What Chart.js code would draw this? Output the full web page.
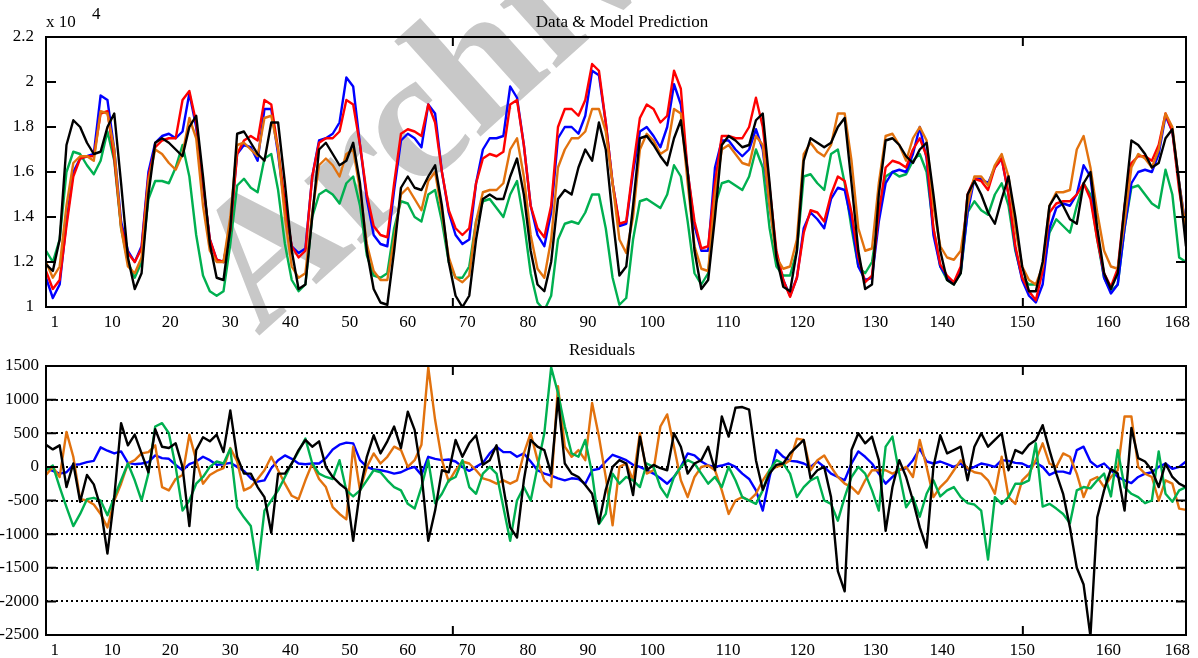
<!DOCTYPE html>
<html>
<head>
<meta charset="utf-8">
<script src="https://cdn.jsdelivr.net/npm/chart.js@4.4.1/dist/chart.umd.min.js"></script>
<style>
  body { margin: 0; background: #fff; }
  #page { position: relative; width: 1198px; height: 658px; overflow: hidden; }
  #mark {
    position: absolute; left: 278px; top: 174px; line-height: 1;
    font: bold 185px/1 "Liberation Serif", serif; color: #c8c8c8;
    white-space: nowrap; transform-origin: 0 100%; transform: rotate(-42deg);
  }
  canvas { position: absolute; left: 0; }
</style>
</head>
<body>
<div id="page">
  <div id="mark">Archive of SID</div>
  <canvas id="fitChart" width="1198" height="330" style="top:0"></canvas>
  <canvas id="resChart" width="1198" height="328" style="top:330px"></canvas>
</div>
<script>
// hour index 1..168
const hours = Array.from({ length: 168 }, (_, i) => i + 1);

// where the x labels sit (hour units) and what they say
const xTickPos = [2.3, 10.7, 19.2, 28, 36.8, 45.5, 54, 62.7, 71.6, 80.4, 89.8, 100.9, 111.8, 122.5, 132.3, 144, 156.6, 166.7];
const xTickLabels = ['1', '10', '20', '30', '40', '50', '60', '70', '80', '90', '100', '110', '120', '130', '140', '150', '160', '168'];
const frameTicksX = [60.6, 144.1];

// top panel: data and model predictions
const redLoad = [
  11600, 10800, 11200, 13600, 15800, 16600, 16700, 16700, 18600, 18700, 16600, 13600, 12400,
  12000, 12600, 15800, 17100, 17400, 17500, 17500, 19200, 19600, 18200, 15500, 13000, 12100,
  12000, 13400, 16800, 17400, 17600, 17400, 19200, 19000, 17000, 14600, 12700, 12200, 12500,
  15800, 17300, 17500, 17500, 17800, 19200, 19000, 17200, 15000, 13600, 13200, 13100, 15500,
  17700, 17900, 17800, 17600, 19000, 18200, 16000, 14300, 13500, 13200, 13500, 15500, 16600,
  16800, 16700, 16900, 19000, 19200, 17200, 14500, 13500, 13100, 14500, 18000, 18800, 18800,
  18500, 19200, 20800, 20500, 18200, 15500, 13700, 13800, 16200, 18400, 19000, 18800, 18200,
  18500, 20500, 19700, 16000, 13800, 12600, 12700, 15500, 17600, 17600, 17500, 17500, 18000,
  19300, 18000, 15300, 12500, 11200, 10450, 11300, 13300, 14300, 14200, 13800, 15000, 15800,
  15600, 14200, 12200, 11100, 11400, 14200, 16200, 16500, 16400, 16200, 17000, 17500, 16700,
  13500, 11900, 11400, 11100, 11800, 15000, 15700, 15600, 15200, 16200, 16600, 15000, 12700,
  11300, 10700, 10300, 11600, 14200, 14600, 14700, 14700, 15000, 15500, 14800, 13000, 11500,
  10900, 11700, 14500, 16400, 16700, 16700, 16500, 17200, 18600, 17800, 15200, 13300
];
const blueLoad = [
  11300, 10400, 11000, 13800, 16000, 16600, 16700, 16800, 19400, 19200, 17000, 13800, 12500,
  12000, 12700, 16000, 17300, 17600, 17700, 17500, 17800, 19500, 18000, 15400, 13000, 12100,
  12000, 13600, 16800, 17200, 17100, 16500, 18800, 18800, 16800, 14400, 12700, 12400, 12600,
  15800, 17400, 17500, 17700, 18200, 20200, 19800, 17200, 14800, 13200, 12800, 12700, 15200,
  17400, 17700, 17500, 17100, 19000, 18600, 16000, 14200, 13200, 12800, 13000, 15500, 17000,
  17500, 17500, 17600, 19800, 19300, 17200, 14500, 13200, 12700, 14200, 17500, 18000, 18000,
  17700, 18500, 20500, 20300, 18200, 15500, 13600, 13700, 16000, 17800, 18000, 17600, 17100,
  18000, 19900, 19000, 16000, 13600, 12500, 12500, 16200, 17400, 17400, 17000, 16700, 17000,
  17900, 17000, 14500, 12400, 11200, 10500, 11300, 13500, 14200, 13900, 13500, 14800, 15300,
  15200, 13800, 11800, 11200, 11300, 13800, 15500, 16000, 16100, 16000, 16800, 18000, 16600,
  13200, 11800, 11300, 11100, 11600, 14200, 15700, 15700, 15500, 16200, 16600, 15000, 12600,
  11200, 10500, 10200, 11000, 13500, 14400, 14600, 14500, 15000, 16300, 15800, 13200, 11300,
  10600, 11000, 13500, 15500, 16000, 16100, 16000, 16800, 18500, 17800, 15500, 13500
];
const orangeLoad = [
  12000, 11300, 11800, 14500, 16400, 16700, 16700, 16500, 18700, 18600, 17000, 13500, 11800,
  11500, 12200, 15600, 17000, 16800, 16400, 16100, 16800, 18400, 17500, 14500, 12500, 12000,
  12000, 14000, 17200, 17300, 17000, 16700, 18400, 18500, 17000, 14000, 11800, 11300, 11500,
  14200, 16300, 16600, 16300, 15800, 16800, 17000, 15200, 12800, 11600, 11200, 11200, 13000,
  15000, 15300, 14800, 14300, 15600, 16000, 14200, 12200, 11300, 11100, 11400, 13800, 15100,
  15200, 15200, 15500, 17000, 17500, 15800, 13200, 11700, 11300, 13000, 16200, 17000, 17500,
  17500, 17800, 18800, 18800, 17800, 15500, 13000, 12400, 14000, 17000, 17700, 17400, 16800,
  17000, 18800, 18600, 15500, 12700, 11700, 11600, 15000, 17000, 17200, 16800, 16400, 16300,
  17600, 17200, 14500, 12200, 11700, 11800, 13000, 16800, 17300, 16900, 16700, 17200, 18600,
  18600, 16500, 13500, 12500, 12600, 15500, 17600, 17700, 17200, 16500, 17500, 18000, 17400,
  14500, 12700, 12200, 12100, 12500, 14500, 15800, 15800, 15400, 16300, 16800, 15800, 13500,
  11800, 11200, 11000, 11800, 14500, 15100, 15100, 15200, 17000, 17600, 16200, 14200, 12500,
  11800, 11700, 13800, 16200, 16800, 16600, 16200, 17000, 18600, 18000, 15500, 13400
];
const greenLoad = [
  12500, 12000, 13000, 16000, 16900, 16800, 16300, 15900, 16500, 17800, 16500, 13500, 12000,
  11300, 12000, 14800, 15600, 15600, 15500, 16200, 17200, 15800, 13200, 11400, 10700, 10500,
  10700, 12800, 15400, 15700, 15300, 15100, 16600, 16800, 15200, 12800, 11200, 10700, 11000,
  14000, 15000, 15200, 15000, 14600, 15500, 15800, 14500, 12300, 11400, 11300, 11500, 13500,
  14700, 14600, 14000, 13800, 15000, 15200, 13800, 12000, 11300, 11300, 11800, 13800, 14700,
  14800, 14400, 14000, 15000, 15600, 13800, 11500, 10200, 9850, 10500, 13000, 13700, 13800,
  13700, 14200, 15000, 15000, 13500, 11300, 10100, 10400, 13000, 14700, 14800, 14600, 14400,
  15000, 16300, 15800, 13800, 11500, 11000, 11500, 14500, 15500, 15600, 15400, 15200, 15800,
  17000, 16200, 13500, 11800, 11400, 11400, 12500, 15800, 15900, 15500, 15200, 16800, 17000,
  15500, 13500, 11800, 11500, 12000, 14000, 15800, 16000, 15800, 15900, 16500, 16800, 16000,
  13500, 11800, 11200, 11000, 11500, 14200, 14700, 14300, 14100, 15000, 15500, 14500, 12500,
  11300, 11000, 11000, 11500, 13300, 13900, 13600, 13300, 14500, 15500, 15000, 13000, 11300,
  10700, 11000, 13500, 15300, 15400, 15000, 14600, 14400, 16100, 15000, 12200, 12000
];
const blackLoad = [
  11900, 11600, 13000, 17200, 18300, 18000, 17300, 16800, 16900, 18000, 18600, 15500, 12200,
  10800, 11500, 15000, 17300, 17500, 17300, 17000, 16700, 18000, 18500, 15800, 12800, 11300,
  11200, 13500, 17700, 17800, 17300, 16800, 16500, 18200, 18200, 15500, 12500, 10800, 11000,
  14000, 17000, 17300, 16800, 16300, 16500, 17300, 15500, 12500, 10800, 10200, 10100, 12500,
  15300, 15800, 15300, 15200, 15800, 16300, 14500, 12000, 10500, 10000, 10500, 13000, 14800,
  15000, 14800, 14800, 15800, 16600, 15000, 12500, 11000, 10700, 12000, 14800, 15200, 15000,
  16200, 17000, 16500, 18200, 17000, 14000, 11400, 11800, 14500, 17500, 17600, 17200, 16700,
  16300, 17500, 18300, 16000, 12500, 10800, 11200, 14000, 17200, 17600, 17400, 17100, 17200,
  18300, 18600, 15500, 12200, 10900, 10700, 12500, 16500, 17500, 17300, 17100, 17300, 18000,
  18400, 15500, 12500, 10800, 11000, 15000, 17400, 17500, 17200, 16700, 16400, 17000, 17300,
  15000, 12500, 11200, 11000, 11500, 15000, 15600, 15000, 14200, 13700, 14800, 15800, 14000,
  11800, 10700, 10700, 12000, 14500, 15000, 14500, 13900, 13700, 15500, 16000, 13500, 11500,
  10800, 11500, 14500, 17400, 17200, 16800, 16200, 16400, 17500, 17900, 15500, 12700
];

// bottom panel: residuals
const blueRes = [
  -25, -60, -100, -80, 30, 40, 70, 90, 290, 240, 200, 230, 60,
  40, 50, 70, 170, 130, 120, 30, -50, 40, 80, 150, 100, 30,
  40, 60, 0, -60, -170, -220, -200, -20, 100, 170, 120, 50, 40,
  50, 50, 130, 260, 330, 360, 350, 100, 0, -40, -50, -70, -100,
  -80, -30, 0, -120, 150, 120, 100, 110, 80, 0, -60, 0, 60,
  200, 300, 220, 220, 150, 200, 80, -50, -100, -130, -170, -200, -170,
  -180, -250, -50, -30, 80, 180, 140, 100, 30, 0, -50, -100, -170,
  -250, -150, 0, 200, 170, 80, 20, 0, 20, 50, 0, -100, -180,
  -350, -650, -150, 250, 150, 90, 80, 50, 0, 80, 0, -100, -150,
  -200, 50, 230, 150, 50, -100, -250, -150, -40, -20, 100, 270, 80,
  50, 80, 40, 0, 50, -40, 0, 50, 30, 0, 100, 90, 60,
  50, 0, 60, 0, -120, -70, -70, -100, 250, 300, 80, 0, 50,
  -50, -150, -200, -240, -150, -100, -80, 0, 50, -30, 0, 80
];
const orangeRes = [
  -120, 0, -150, 520, 150, -480, -500, -560, -700, -900, -500, -250, 50,
  100, 200, 220, 320, -300, -350, -180, -120, 480, 100, -250, -120, -60,
  -20, 280, 80, -350, -300, -180, -50, 150, -50, -250, -430, -480, -200,
  50, -180, -300, -600, -700, -780, 300, -350, 0, 200, 50, 150, 300,
  250, 0, 100, 330, 1480, 700, 100, -220, -50, 80, 50, -50, -170,
  -200, -250, -200, -250, -200, 200, 500, 100, -200, -300, 1200, 300, 150,
  250, 100, 950, 450, -150, -870, 0, 50, -200, 500, -100, -50, 600,
  780, 300, -200, -450, -150, 0, 20, -50, -350, -700, -500, -450, -500,
  -400, -200, -50, 0, 30, 100, 420, 400, -50, 100, 170, 0, -150,
  -250, -300, -400, -200, -50, -50, -50, -100, -50, 0, -150, 400, 0,
  -450, -300, -200, -50, 100, -20, -80, -100, -200, -400, 150, -450, -550,
  -200, -100, 100, 350, 50, 0, 200, 150, -100, -450, -200, -150, -300,
  -150, -50, 750, 750, 0, -100, -150, -500, -200, -250, -620, -640
];
const greenRes = [
  -50, 20, -300, -600, -880, -700, -480, -460, -500, -720, -450, -200, 50,
  -200, -500, -100, 600, 650, 500, 0, -650, -500, -250, -150, 0, 80,
  50, 270, -600, -750, -880, -1530, -650, -500, -350, -150, 50, 230, 420,
  50, -100, -150, -180, 100, -350, -440, -350, -200, -50, -80, -200, -300,
  -350, -550, -620, -300, 100, -540, -400, -200, -150, 100, -300, -400, -100,
  0, -100, -600, -1100, -500, -300, -500, 0, 500, 1480, 1100, 600, 200,
  150, 400, -100, -850, -700, -100, -250, -150, -200, -300, 50, 0, -300,
  -450, -150, 0, 100, 50, -100, -250, -150, -300, 0, -200, -450, -500,
  -550, -350, -50, 100, 50, -100, -450, -300, -200, -150, -500, -550, -800,
  -450, -150, 0, -100, -350, -650, 300, 450, -100, -600, -450, -740, -400,
  -200, -440, -350, -300, -450, -540, -560, -650, -1380, -450, -550, -450, -250,
  -250, -200, 350, -590, -550, -620, -700, -840, -350, -300, -320, -200, -100,
  -440, 250, -300, -400, -450, -540, -500, 230, -400, -520, -350, -300
];
const blackRes = [
  330, 260, 320, -300, 50, -520, -120, -260, -600, -1290, -450, 650, 320,
  480, 200, -80, 560, 300, 280, 350, 0, -880, 250, 440, 380, 480,
  220, 840, 150, -100, -100, -300, -450, -980, -100, -100, 50, 250, 400,
  300, 380, 0, -150, -250, -330, -1100, -350, 150, 470, 200, 380, 600,
  280, 820, 550, -100, -1100, -650, -50, -80, 400, 150, 350, 470, 30,
  100, 320, -300, -900, -1050, -200, 400, 300, 250, -100, 1020, 50, -100,
  -150, -270, -400, -840, -340, 0, 100, 50, -420, 450, -50, 30, -20,
  -50, 500, 300, -100, 50, 100, 300, -50, 750, 450, 880, 890, 850,
  100, -340, -100, 30, 50, 200, 300, 400, -170, -50, 0, -450, -1550,
  -1850, 250, 500, 350, 450, 100, -950, -300, 100, -150, -500, -900, -1200,
  0, 470, 200, 250, 300, -200, 300, 500, 300, 400, 500, -50, 250,
  200, 330, 400, 620, 250, -100, -400, -900, -1500, -1750, -2520, -750, -350,
  -30, -100, -650, 580, 130, 80, -50, -300, 50, -150, -250, -300
];

const serif = '"Liberation Serif", "Times New Roman", serif';
const tickFont = { family: serif, size: 17 };

const toPoints = ys => hours.map((h, i) => ({ x: h, y: ys[i] }));

function line(label, ys, color, order) {
  return {
    label, data: toPoints(ys), borderColor: color, backgroundColor: color,
    borderWidth: 2.4, borderJoinStyle: 'round', pointRadius: 0, tension: 0, fill: false, order
  };
}

// box round the plot, inward tick marks, titles
const framePlugin = {
  id: 'frame',
  afterDraw(chart, args, opts) {
    const { ctx, chartArea: a, scales } = chart;
    ctx.save();
    ctx.strokeStyle = '#000';
    ctx.lineWidth = 2;
    ctx.strokeRect(a.left, a.top, a.right - a.left, a.bottom - a.top);
    ctx.beginPath();
    scales.y.ticks.forEach(t => {
      const y = scales.y.getPixelForValue(t.value);
      ctx.moveTo(a.left, y); ctx.lineTo(a.left + 10, y);
      ctx.moveTo(a.right, y); ctx.lineTo(a.right - 10, y);
    });
    frameTicksX.forEach(v => {
      const x = scales.x.getPixelForValue(v);
      ctx.moveTo(x, a.top); ctx.lineTo(x, a.top + 9);
      ctx.moveTo(x, a.bottom); ctx.lineTo(x, a.bottom - 9);
    });
    ctx.stroke();
    ctx.fillStyle = '#000';
    (opts.texts || []).forEach(t => {
      ctx.font = '17px ' + serif;
      ctx.textAlign = t.align || 'center';
      ctx.textBaseline = 'alphabetic';
      ctx.fillText(t.text, t.x, t.y);
    });
    ctx.restore();
  }
};

function xScale() {
  return {
    type: 'linear', min: 1, max: 168,
    afterBuildTicks: s => { s.ticks = xTickPos.map(v => ({ value: v })); },
    afterFit: s => { s.height = 23; },
    grid: { display: false, drawTicks: false },
    border: { display: false },
    ticks: {
      autoSkip: false, maxRotation: 0, padding: 5, color: '#000', font: tickFont,
      callback: (v, i) => xTickLabels[i]
    }
  };
}

new Chart(document.getElementById('fitChart'), {
  type: 'line',
  data: {
    datasets: [
      line('Model 4', blackLoad, '#000000', 0),
      line('Model 2', orangeLoad, '#e2720e', 1),
      line('Data', redLoad, '#ff0000', 2),
      line('Model 1', blueLoad, '#0000ff', 3),
      line('Model 3', greenLoad, '#00b050', 4)
    ]
  },
  options: {
    responsive: false, animation: false,
    layout: { padding: { top: 37, right: 12, left: 0, bottom: 0 } },
    plugins: {
      legend: { display: false }, tooltip: { enabled: false },
      frame: {
        texts: [
          { text: 'Data & Model Prediction', x: 622, y: 27 },
          { text: 'x 10', x: 46, y: 27, align: 'left' },
          { text: '4', x: 92, y: 19, align: 'left' }
        ]
      }
    },
    scales: {
      x: xScale(),
      y: {
        min: 10000, max: 22000,
        afterFit: s => { s.width = 46; },
        grid: { display: false, drawTicks: false },
        border: { display: false },
        ticks: {
          stepSize: 2000, padding: 12, color: '#000', font: tickFont,
          callback: v => String(Math.round(v / 1000) / 10)
        }
      }
    }
  },
  plugins: [framePlugin]
});

new Chart(document.getElementById('resChart'), {
  type: 'line',
  data: {
    datasets: [
      line('Model 4', blackRes, '#000000', 0),
      line('Model 3', greenRes, '#00b050', 1),
      line('Model 2', orangeRes, '#e2720e', 2),
      line('Model 1', blueRes, '#0000ff', 3)
    ]
  },
  options: {
    responsive: false, animation: false,
    layout: { padding: { top: 36, right: 12, left: 0, bottom: 0 } },
    plugins: {
      legend: { display: false }, tooltip: { enabled: false },
      frame: { texts: [{ text: 'Residuals', x: 602, y: 25 }] }
    },
    scales: {
      x: xScale(),
      y: {
        min: -2500, max: 1500,
        afterFit: s => { s.width = 46; },
        grid: { color: '#000', lineWidth: 2, drawTicks: false },
        border: { display: false, dash: [2, 3] },
        ticks: { stepSize: 500, padding: 7, color: '#000', font: tickFont, callback: v => String(v) }
      }
    }
  },
  plugins: [framePlugin]
});
</script>
</body>
</html>
